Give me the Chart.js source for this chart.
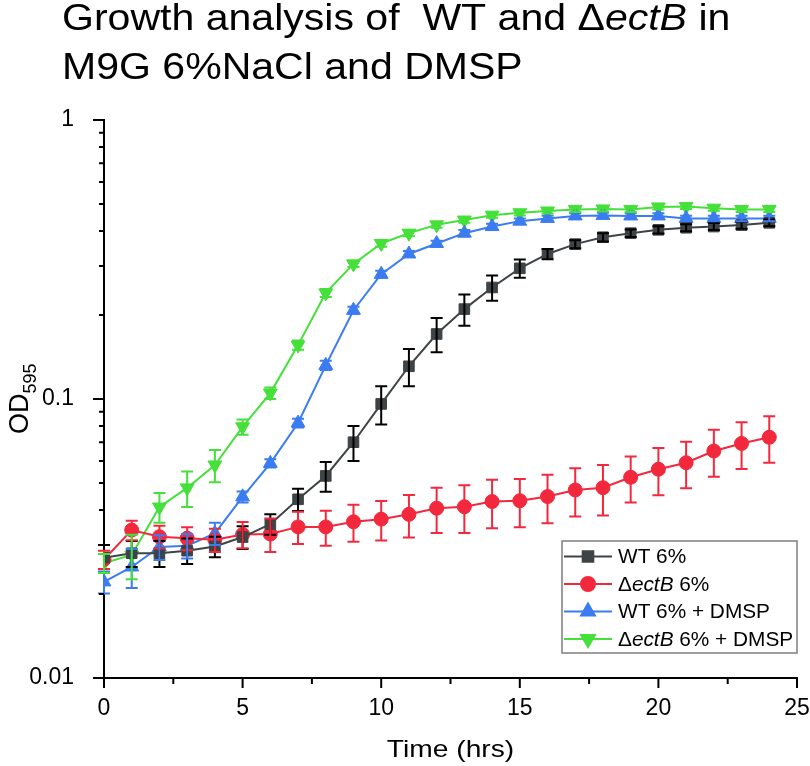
<!DOCTYPE html>
<html>
<head>
<meta charset="utf-8">
<script src="https://cdn.jsdelivr.net/npm/chart.js@4.4.0/dist/chart.umd.min.js"></script>
<style>
  html, body { margin: 0; padding: 0; background: #fff; }
  canvas { display: block; }
</style>
</head>
<body>
<canvas id="growthChart" width="810" height="766"></canvas>
<script>
// time points (hrs)
const hours = [0, 1, 2, 3, 4, 5, 6, 7, 8, 9, 10, 11, 12, 13, 14, 15, 16, 17, 18, 19, 20, 21, 22, 23, 24];

// OD595 means and error (SD) per series
const wt6 = [0.027, 0.028, 0.028, 0.0286, 0.0296, 0.032, 0.0356, 0.0437, 0.053, 0.070, 0.096, 0.131, 0.171, 0.21, 0.251, 0.294, 0.331, 0.359, 0.38, 0.393, 0.404, 0.411, 0.415, 0.42, 0.428];
const wt6Err = [0.003, 0.003, 0.003, 0.003, 0.0025, 0.003, 0.003, 0.004, 0.0065, 0.01, 0.015, 0.02, 0.024, 0.027, 0.026, 0.022, 0.014, 0.012, 0.013, 0.012, 0.012, 0.012, 0.012, 0.012, 0.012];

const ectB6 = [0.0266, 0.0339, 0.0321, 0.0317, 0.0313, 0.0327, 0.0328, 0.0348, 0.0348, 0.0363, 0.0371, 0.0386, 0.0406, 0.0411, 0.0429, 0.0432, 0.0447, 0.0472, 0.0481, 0.0524, 0.056, 0.0591, 0.0651, 0.0693, 0.0729];
const ectB6Err = [0.002, 0.0027, 0.003, 0.003, 0.003, 0.0035, 0.0045, 0.0046, 0.005, 0.0055, 0.006, 0.0067, 0.0075, 0.008, 0.0085, 0.0085, 0.0088, 0.0093, 0.0099, 0.0098, 0.0108, 0.0112, 0.0125, 0.0132, 0.0138];

const wtDmsp = [0.0221, 0.025, 0.0295, 0.0298, 0.033, 0.0446, 0.0588, 0.082, 0.132, 0.208, 0.28, 0.331, 0.361, 0.393, 0.415, 0.434, 0.444, 0.453, 0.455, 0.453, 0.453, 0.444, 0.444, 0.444, 0.444];
const wtDmspErr = [0.002, 0.004, 0.003, 0.003, 0.003, 0.002, 0.002, 0.003, 0.005, 0.006, 0.008, 0.008, 0.008, 0.01, 0.01, 0.01, 0.01, 0.01, 0.01, 0.01, 0.01, 0.01, 0.01, 0.01, 0.01];

const ectBDmsp = [0.0258, 0.0276, 0.041, 0.048, 0.058, 0.0795, 0.105, 0.156, 0.24, 0.305, 0.361, 0.393, 0.421, 0.438, 0.456, 0.465, 0.472, 0.478, 0.48, 0.478, 0.488, 0.49, 0.483, 0.478, 0.478];
const ectBDmspErr = [0.002, 0.005, 0.005, 0.007, 0.0077, 0.005, 0.005, 0.006, 0.008, 0.008, 0.01, 0.01, 0.01, 0.01, 0.01, 0.01, 0.01, 0.01, 0.01, 0.01, 0.01, 0.01, 0.01, 0.01, 0.01];

const seriesNames = ["WT 6%", "\u0394ectB 6%", "WT 6% + DMSP", "\u0394ectB 6% + DMSP"];

const xTicks = [0, 5, 10, 15, 20, 25];
const yTicks = [0.01, 0.1, 1];
const yTickLabels = ["0.01", "0.1", "1"];

const titleLines = ["Growth analysis of  WT and \u0394ectB in", "M9G 6%NaCl and DMSP"];

const FONT = "'Liberation Sans', Arial, sans-serif";
const colors = ["#3e4346", "#f2283c", "#3b7cf0", "#45e03a"];
const errColors = ["#000000", "#f2283c", "#3b7cf0", "#45e03a"];
const errors = [wt6Err, ectB6Err, wtDmspErr, ectBDmspErr];

function makeSet(i, values, style, radius, rotation) {
  return {
    label: seriesNames[i],
    data: hours.map((h, j) => ({ x: h, y: values[j] })),
    borderColor: colors[i],
    backgroundColor: colors[i],
    borderWidth: 2,
    pointStyle: style,
    pointRadius: radius,
    pointRotation: rotation,
    pointBorderWidth: 1,
    pointBackgroundColor: colors[i],
    pointBorderColor: colors[i],
    tension: 0
  };
}

// draws text with "ectB" set in italics
function drawRich(ctx, text, x, y, size) {
  const parts = text.split(/(ectB)/);
  let cx = x;
  parts.forEach(p => {
    if (!p) return;
    ctx.font = (p === "ectB" ? "italic " : "") + size + "px " + FONT;
    ctx.fillText(p, cx, y);
    cx += ctx.measureText(p).width;
  });
}

const errorBars = {
  id: "errorBars",
  afterDatasetsDraw(chart) {
    const ctx = chart.ctx;
    const ys = chart.scales.y;
    chart.data.datasets.forEach((ds, i) => {
      const meta = chart.getDatasetMeta(i);
      ctx.save();
      ctx.strokeStyle = errColors[i];
      ctx.lineWidth = 2;
      meta.data.forEach((pt, j) => {
        const v = ds.data[j].y, e = errors[i][j];
        const top = ys.getPixelForValue(v + e);
        const bot = ys.getPixelForValue(Math.max(v - e, 0.0001));
        ctx.beginPath();
        ctx.moveTo(pt.x, top); ctx.lineTo(pt.x, bot);
        ctx.moveTo(pt.x - 6, top); ctx.lineTo(pt.x + 6, top);
        ctx.moveTo(pt.x - 6, bot); ctx.lineTo(pt.x + 6, bot);
        ctx.stroke();
      });
      ctx.restore();
    });
  }
};

const decorations = {
  id: "decorations",
  afterDraw(chart) {
    const ctx = chart.ctx;
    const xs = chart.scales.x, ys = chart.scales.y;
    const area = chart.chartArea;
    ctx.save();
    // tick marks
    ctx.strokeStyle = "#000";
    ctx.lineWidth = 2;
    ctx.beginPath();
    yTicks.forEach(v => {
      const p = ys.getPixelForValue(v);
      ctx.moveTo(area.left - 11, p); ctx.lineTo(area.left, p);
    });
    for (let d = 0; d < yTicks.length - 1; d++) {
      for (let m = 2; m <= 9; m++) {
        const p = ys.getPixelForValue(yTicks[d] * m);
        ctx.moveTo(area.left - 5, p); ctx.lineTo(area.left, p);
      }
    }
    xTicks.forEach((v, k) => {
      const p = xs.getPixelForValue(v);
      ctx.moveTo(p, area.bottom); ctx.lineTo(p, area.bottom + 10);
      if (k < xTicks.length - 1) {
        const q = xs.getPixelForValue((v + xTicks[k + 1]) / 2);
        ctx.moveTo(q, area.bottom); ctx.lineTo(q, area.bottom + 6);
      }
    });
    ctx.stroke();

    ctx.fillStyle = "#000";
    ctx.textBaseline = "alphabetic";
    ctx.textAlign = "left";

    // title
    titleLines.forEach((line, k) => {
      ctx.save();
      ctx.translate(62, 30 + k * 49);
      ctx.scale(1.14, 1);
      drawRich(ctx, line, 0, 0, 36);
      ctx.restore();
    });

    // x axis title
    ctx.save();
    ctx.font = "24.5px " + FONT;
    ctx.translate((area.left + area.right) / 2, 757);
    ctx.scale(1.15, 1);
    ctx.textAlign = "center";
    ctx.fillText("Time (hrs)", 0, 0);
    ctx.restore();

    // y axis title OD595
    ctx.save();
    ctx.translate(28, 434);
    ctx.rotate(-Math.PI / 2);
    ctx.font = "27px " + FONT;
    ctx.fillText("OD", 0, 0);
    const w = ctx.measureText("OD").width;
    ctx.font = "18px " + FONT;
    ctx.fillText("595", w, 8);
    ctx.restore();

    // legend
    const bx = 562, by = 541, bw = 235, bh = 112;
    ctx.fillStyle = "#fff";
    ctx.fillRect(bx, by, bw, bh);
    ctx.strokeStyle = "#7f7f7f";
    ctx.lineWidth = 1.5;
    ctx.strokeRect(bx, by, bw, bh);
    const rows = [556.5, 584, 611.5, 639];
    chart.data.datasets.forEach((ds, i) => {
      const ry = rows[i];
      ctx.strokeStyle = colors[i];
      ctx.lineWidth = 2;
      ctx.beginPath();
      ctx.moveTo(bx + 2, ry); ctx.lineTo(bx + 50, ry);
      ctx.stroke();
      ctx.fillStyle = colors[i];
      Chart.helpers.drawPoint(ctx, {
        pointStyle: ds.pointStyle,
        radius: ds.pointRadius,
        rotation: ds.pointRotation,
        borderWidth: 1
      }, bx + 26, ry);
      ctx.fillStyle = "#000";
      ctx.textBaseline = "middle";
      drawRich(ctx, ds.label, bx + 56, ry + 1, 20.8);
    });
    ctx.restore();
  }
};

new Chart(document.getElementById("growthChart"), {
  type: "line",
  data: {
    datasets: [
      makeSet(0, wt6, "rect", 7.5, 0),
      makeSet(1, ectB6, "circle", 7, 0),
      makeSet(2, wtDmsp, "triangle", 8, 0),
      makeSet(3, ectBDmsp, "triangle", 8, 180)
    ]
  },
  options: {
    responsive: false,
    animation: false,
    layout: { padding: { top: 120, right: 13, left: 0, bottom: 0 } },
    plugins: { legend: { display: false }, tooltip: { enabled: false } },
    scales: {
      x: {
        type: "linear",
        min: 0,
        max: 25,
        afterBuildTicks: s => { s.ticks = xTicks.map(v => ({ value: v })); },
        afterFit: s => { s.height = 88; s.paddingLeft = 0; s.paddingRight = 0; },
        grid: { display: false },
        border: { display: true, color: "#000", width: 2 },
        ticks: { padding: 9, color: "#000", maxRotation: 0, font: { family: FONT, size: 23 } }
      },
      y: {
        type: "logarithmic",
        min: 0.01,
        max: 1,
        afterBuildTicks: s => { s.ticks = yTicks.map(v => ({ value: v })); },
        afterFit: s => { s.width = 104; s.paddingTop = 0; s.paddingBottom = 0; },
        grid: { display: false },
        border: { display: true, color: "#000", width: 2 },
        ticks: {
          padding: 22,
          color: "#000",
          font: { family: FONT, size: 23 },
          callback: (v, i) => yTickLabels[i]
        }
      }
    }
  },
  plugins: [errorBars, decorations]
});
</script>
</body>
</html>
